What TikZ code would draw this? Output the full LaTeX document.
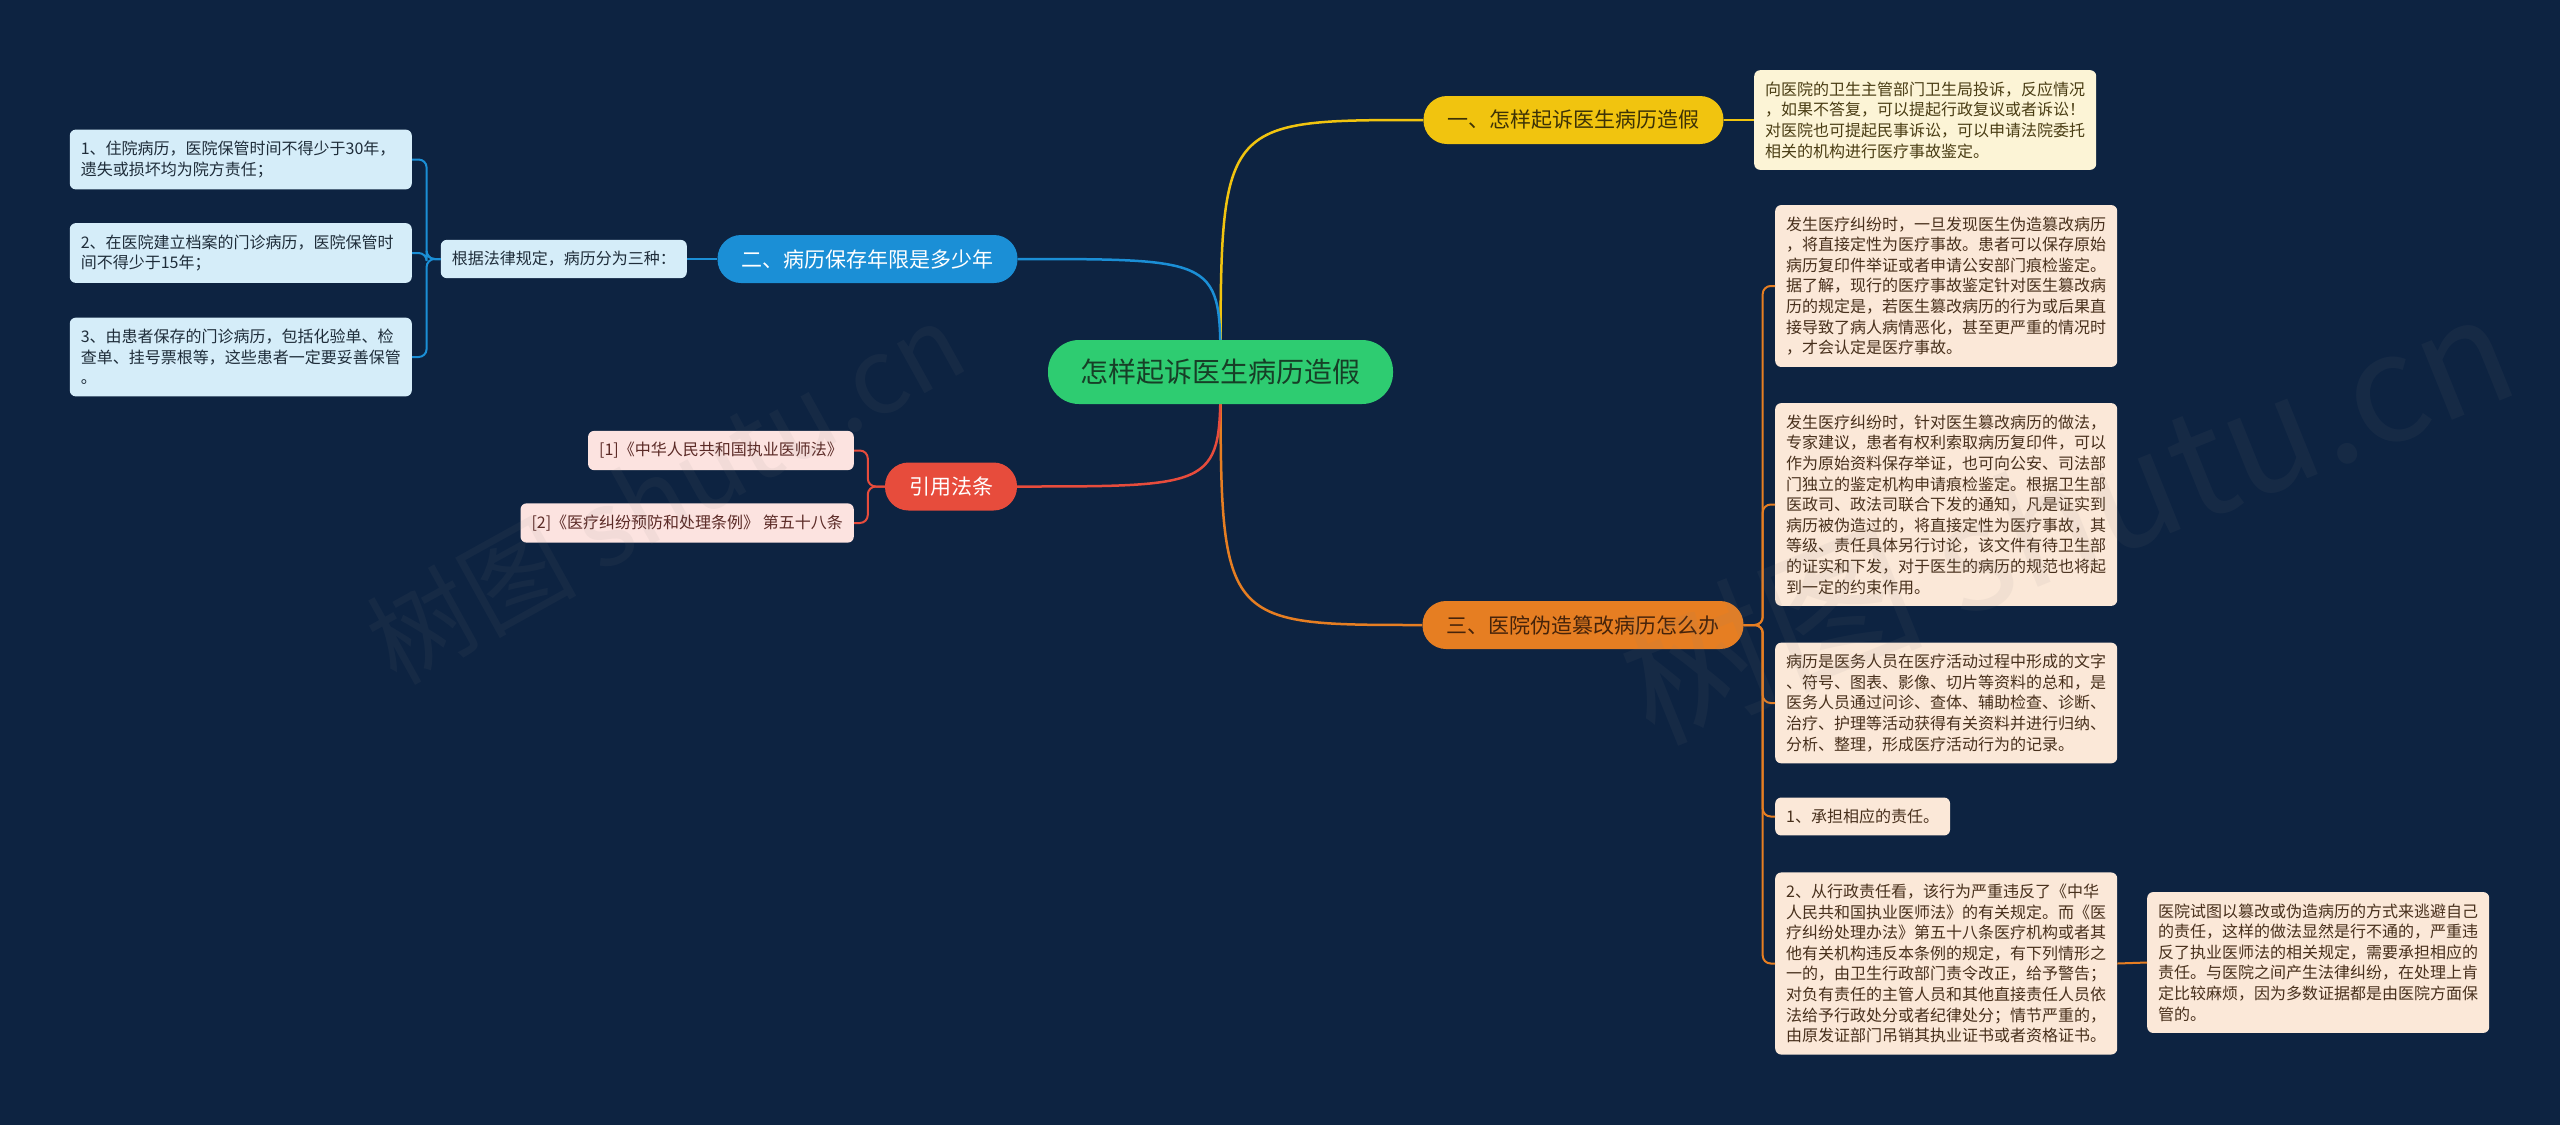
\documentclass[tikz,border=0pt]{standalone}
\usepackage{fontspec}
\setmainfont{Noto Sans CJK SC}

\definecolor{navy}{HTML}{0D2341}
\definecolor{cgreen}{HTML}{2ECC71}
\definecolor{gtxt}{HTML}{173F27}
\definecolor{cyellow}{HTML}{F1C40F}
\definecolor{ytxt}{HTML}{3D3206}
\definecolor{corange}{HTML}{E67E22}
\definecolor{otxt}{HTML}{46230A}
\definecolor{cblue}{HTML}{1B8FD6}
\definecolor{cred}{HTML}{E74C3C}
\definecolor{ylight}{HTML}{FCF4D6}
\definecolor{olight}{HTML}{FBE8D8}
\definecolor{blight}{HTML}{D5EDF9}
\definecolor{rlight}{HTML}{FCE3E0}
\definecolor{lytxt}{HTML}{4A3D14}
\definecolor{lotxt}{HTML}{48301C}
\definecolor{lbtxt}{HTML}{1F2D3A}
\definecolor{lrtxt}{HTML}{5B2A26}

\pgfdeclarelayer{back}
\pgfdeclarelayer{wires}
\pgfsetlayers{back,wires,main}

\begin{document}
\begin{tikzpicture}[x=1pt,y=-1pt]

\tikzset{
    main/.style={fill=cgreen,text=gtxt,rounded corners=31pt,minimum height=64pt,minimum width=345pt,inner xsep=8pt,font=\fontsize{28}{34}\selectfont},
    branch/.style={fill=#1,rounded corners=23.5pt,minimum height=48pt,inner xsep=24pt,font=\fontsize{21}{25}\selectfont},
    leaf/.style={fill=#1,rounded corners=6pt,align=left,inner xsep=11pt,inner ysep=11.5pt,font=\fontsize{16}{20.6}\selectfont},
    wide/.style={text width=320pt},
    wire/.style={draw=#1,line width=2.5pt},
    twig/.style={draw=#1,line width=2pt,rounded corners=8pt},
    stamp/.style={text=gray,opacity=0.08}}

\begin{pgfonlayer}{back}
\fill[navy] (0,0) rectangle (2560,1125);
\end{pgfonlayer}
\useasboundingbox (0,0) rectangle (2560,1125);

\node[main] (M) at (1220.5,372) {怎样起诉医生病历造假};

\node[branch=cyellow, text=ytxt] (A) at (1573.5,120) {一、怎样起诉医生病历造假};
\node[branch=cblue, text=white] (B) at (867.5,259) {二、病历保存年限是多少年};
\node[branch=corange, text=otxt] (C) at (1583,625) {三、医院伪造篡改病历怎么办};
\node[branch=cred, text=white] (D) at (951,486.5) {引用法条};

% 一
\node[leaf=ylight, wide, text=lytxt, anchor=west] (A1) at (1754,120) {向医院的卫生主管部门卫生局投诉，反应情况\\，如果不答复，可以提起行政复议或者诉讼！\\对医院也可提起民事诉讼，可以申请法院委托\\相关的机构进行医疗事故鉴定。};

% 二
\node[leaf=blight, text=lbtxt, anchor=east] (B1) at (687,259) {根据法律规定，病历分为三种：};
\node[leaf=blight, wide, text=lbtxt, anchor=east] (B11) at (412,159.5) {1、住院病历，医院保管时间不得少于30年，\\遗失或损坏均为院方责任；};
\node[leaf=blight, wide, text=lbtxt, anchor=east] (B12) at (412,253) {2、在医院建立档案的门诊病历，医院保管时\\间不得少于15年；};
\node[leaf=blight, wide, text=lbtxt, anchor=east] (B13) at (412,357) {3、由患者保存的门诊病历，包括化验单、检\\查单、挂号票根等，这些患者一定要妥善保管\\。};

% 三
\node[leaf=olight, wide, text=lotxt, anchor=west] (C1) at (1775,286) {发生医疗纠纷时，一旦发现医生伪造篡改病历\\，将直接定性为医疗事故。患者可以保存原始\\病历复印件举证或者申请公安部门痕检鉴定。\\据了解，现行的医疗事故鉴定针对医生篡改病\\历的规定是，若医生篡改病历的行为或后果直\\接导致了病人病情恶化，甚至更严重的情况时\\，才会认定是医疗事故。};
\node[leaf=olight, wide, text=lotxt, anchor=west] (C2) at (1775,504.5) {发生医疗纠纷时，针对医生篡改病历的做法，\\专家建议，患者有权利索取病历复印件，可以\\作为原始资料保存举证，也可向公安、司法部\\门独立的鉴定机构申请痕检鉴定。根据卫生部\\医政司、政法司联合下发的通知，凡是证实到\\病历被伪造过的，将直接定性为医疗事故，其\\等级、责任具体另行讨论，该文件有待卫生部\\的证实和下发，对于医生的病历的规范也将起\\到一定的约束作用。};
\node[leaf=olight, wide, text=lotxt, anchor=west] (C3) at (1775,703) {病历是医务人员在医疗活动过程中形成的文字\\、符号、图表、影像、切片等资料的总和，是\\医务人员通过问诊、查体、辅助检查、诊断、\\治疗、护理等活动获得有关资料并进行归纳、\\分析、整理，形成医疗活动行为的记录。};
\node[leaf=olight, text=lotxt, anchor=west] (C4) at (1775,816.5) {1、承担相应的责任。};
\node[leaf=olight, wide, text=lotxt, anchor=west] (C5) at (1775,963.5) {2、从行政责任看，该行为严重违反了《中华\\人民共和国执业医师法》的有关规定。而《医\\疗纠纷处理办法》第五十八条医疗机构或者其\\他有关机构违反本条例的规定，有下列情形之\\一的，由卫生行政部门责令改正，给予警告；\\对负有责任的主管人员和其他直接责任人员依\\法给予行政处分或者纪律处分；情节严重的，\\由原发证部门吊销其执业证书或者资格证书。};
\node[leaf=olight, wide, text=lotxt, anchor=west] (C51) at (2147,962.5) {医院试图以篡改或伪造病历的方式来逃避自己\\的责任，这样的做法显然是行不通的，严重违\\反了执业医师法的相关规定，需要承担相应的\\责任。与医院之间产生法律纠纷，在处理上肯\\定比较麻烦，因为多数证据都是由医院方面保\\管的。};

% 引用法条
\node[leaf=rlight, text=lrtxt, anchor=east] (D1) at (854,450.5) {[1]《中华人民共和国执业医师法》};
\node[leaf=rlight, text=lrtxt, anchor=east] (D2) at (854,523) {[2]《医疗纠纷预防和处理条例》 第五十八条};

\begin{pgfonlayer}{wires}
\draw[wire=cyellow] (M.center) .. controls (M.center |- A.west) .. (A.west);
\draw[wire=cblue] (M.center) .. controls (M.center |- B.east) .. (B.east);
\draw[wire=corange] (M.center) .. controls (M.center |- C.west) .. (C.west);
\draw[wire=cred] (M.center) .. controls (M.center |- D.east) .. (D.east);
\end{pgfonlayer}

\draw[twig=cyellow] (A.east) -- (A1.west);
\draw[twig=cblue] (B.west) -- (B1.east);
\foreach \n in {B11,B12,B13}
    \draw[twig=cblue] (B1.west) -- ++(-14,0) |- (\n.east);
\foreach \n in {C1,C2,C3,C4,C5}
    \draw[twig=corange] (C.east) -- ++(19,0) |- (\n.west);
\draw[twig=corange] (C5.east) -- (C51.west);
\foreach \n in {D1,D2}
    \draw[twig=cred] (D.west) -- ++(-17,0) |- (\n.east);

% watermark
\node[stamp, rotate=29, font=\fontsize{105}{110}\selectfont] (W1) at (665,492) {树图 shutu.cn};
\node[stamp, rotate=22, font=\fontsize{150}{155}\selectfont] (W2) at (2066,515) {树图 shutu.cn};

\end{tikzpicture}
\end{document}
